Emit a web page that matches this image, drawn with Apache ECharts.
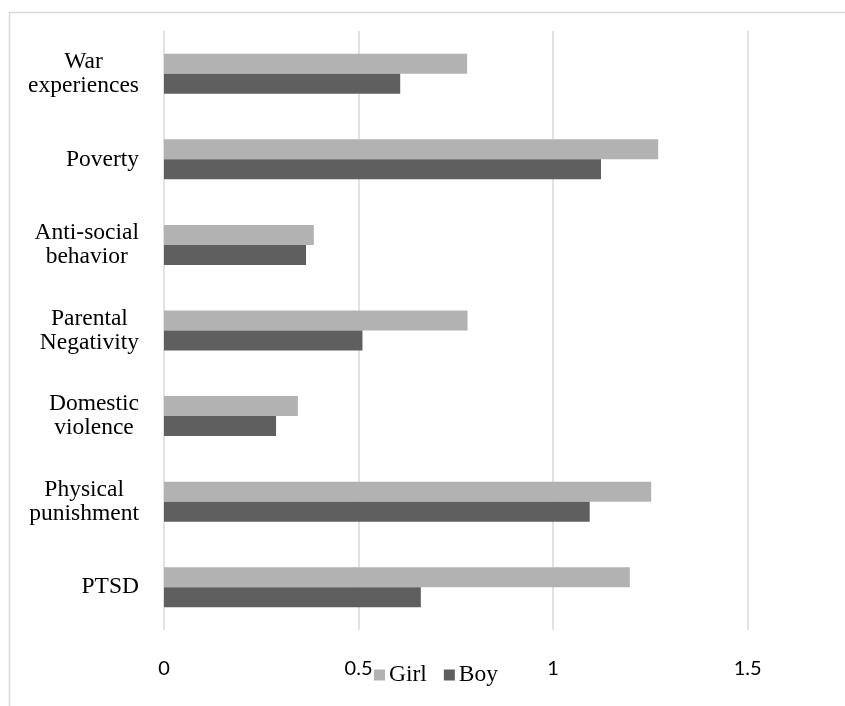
<!DOCTYPE html>
<html>
<head>
<meta charset="utf-8">
<style>
  html, body { margin: 0; padding: 0; background: #ffffff; }
  #chart { width: 845px; height: 706px; }
</style>
<script src="https://cdn.jsdelivr.net/npm/echarts@6/dist/echarts.min.js"></script>
</head>
<body>
<div id="chart"></div>
<script>
// ---- data ----
var categories = [
  'War\nexperiences',
  'Poverty',
  'Anti-social\nbehavior',
  'Parental\nNegativity',
  'Domestic\nviolence',
  'Physical\npunishment',
  'PTSD'
];
var seriesNames = ['Girl', 'Boy'];
var girlValues = [0.779, 1.270, 0.385, 0.780, 0.344, 1.252, 1.197];
var boyValues  = [0.607, 1.123, 0.365, 0.510, 0.288, 1.094, 0.660];
var xTicks = [0, 0.5, 1, 1.5];

var chart = echarts.init(document.getElementById('chart'), null, { renderer: 'canvas' });

var option = {
  backgroundColor: '#ffffff',
  animation: false,
  graphic: [{
    type: 'rect',
    silent: true,
    shape: { x: 9.5, y: 12.5, width: 900, height: 800 },
    style: { fill: 'none', stroke: '#d9d9d9', lineWidth: 1.5 },
    z: 0
  }],
  legend: {
    data: seriesNames,
    left: 374,
    top: 663,
    padding: 0,
    itemWidth: 11,
    itemHeight: 11,
    itemGap: 17,
    icon: 'rect',
    textStyle: {
      fontFamily: '"Liberation Serif", "DejaVu Serif", serif',
      fontSize: 23.5,
      color: '#000000',
      padding: [0, 0, 0, -1]
    }
  },
  grid: {
    left: 164,
    top: 31,
    right: 0,
    height: 599,
    containLabel: false
  },
  xAxis: {
    type: 'value',
    min: 0,
    max: 1.75,
    interval: 0.5,
    axisLine: { show: false },
    axisTick: { show: false },
    splitLine: { show: true, showMaxLine: false, lineStyle: { color: '#d9d9d9', width: 1.5 } },
    axisLabel: {
      margin: 29,
      showMaxLabel: false,
      fontFamily: 'Lato, "Open Sans", sans-serif',
      fontSize: 20,
      color: '#000000',
      formatter: function (v) {
        return xTicks.indexOf(v) >= 0 ? String(v) : '';
      }
    }
  },
  yAxis: {
    type: 'category',
    data: categories,
    inverse: true,
    axisLine: { show: false },
    axisTick: { show: false },
    splitLine: { show: false },
    axisLabel: {
      margin: 25,
      align: 'right',
      formatter: function (v) {
        return v.split('\n').map(function (l) { return '{c|' + l + '}'; }).join('\n');
      },
      rich: {
        c: {
          align: 'center',
          fontFamily: '"Liberation Serif", "DejaVu Serif", serif',
          fontSize: 23.5,
          lineHeight: 24,
          color: '#000000'
        }
      }
    }
  },
  series: [
    {
      name: seriesNames[0],
      type: 'bar',
      data: girlValues,
      barWidth: 20,
      barGap: '0%',
      itemStyle: { color: '#b2b2b2' }
    },
    {
      name: seriesNames[1],
      type: 'bar',
      data: boyValues,
      barWidth: 20,
      barGap: '0%',
      itemStyle: { color: '#5f5f5f' }
    }
  ]
};

chart.setOption(option);
</script>
</body>
</html>
